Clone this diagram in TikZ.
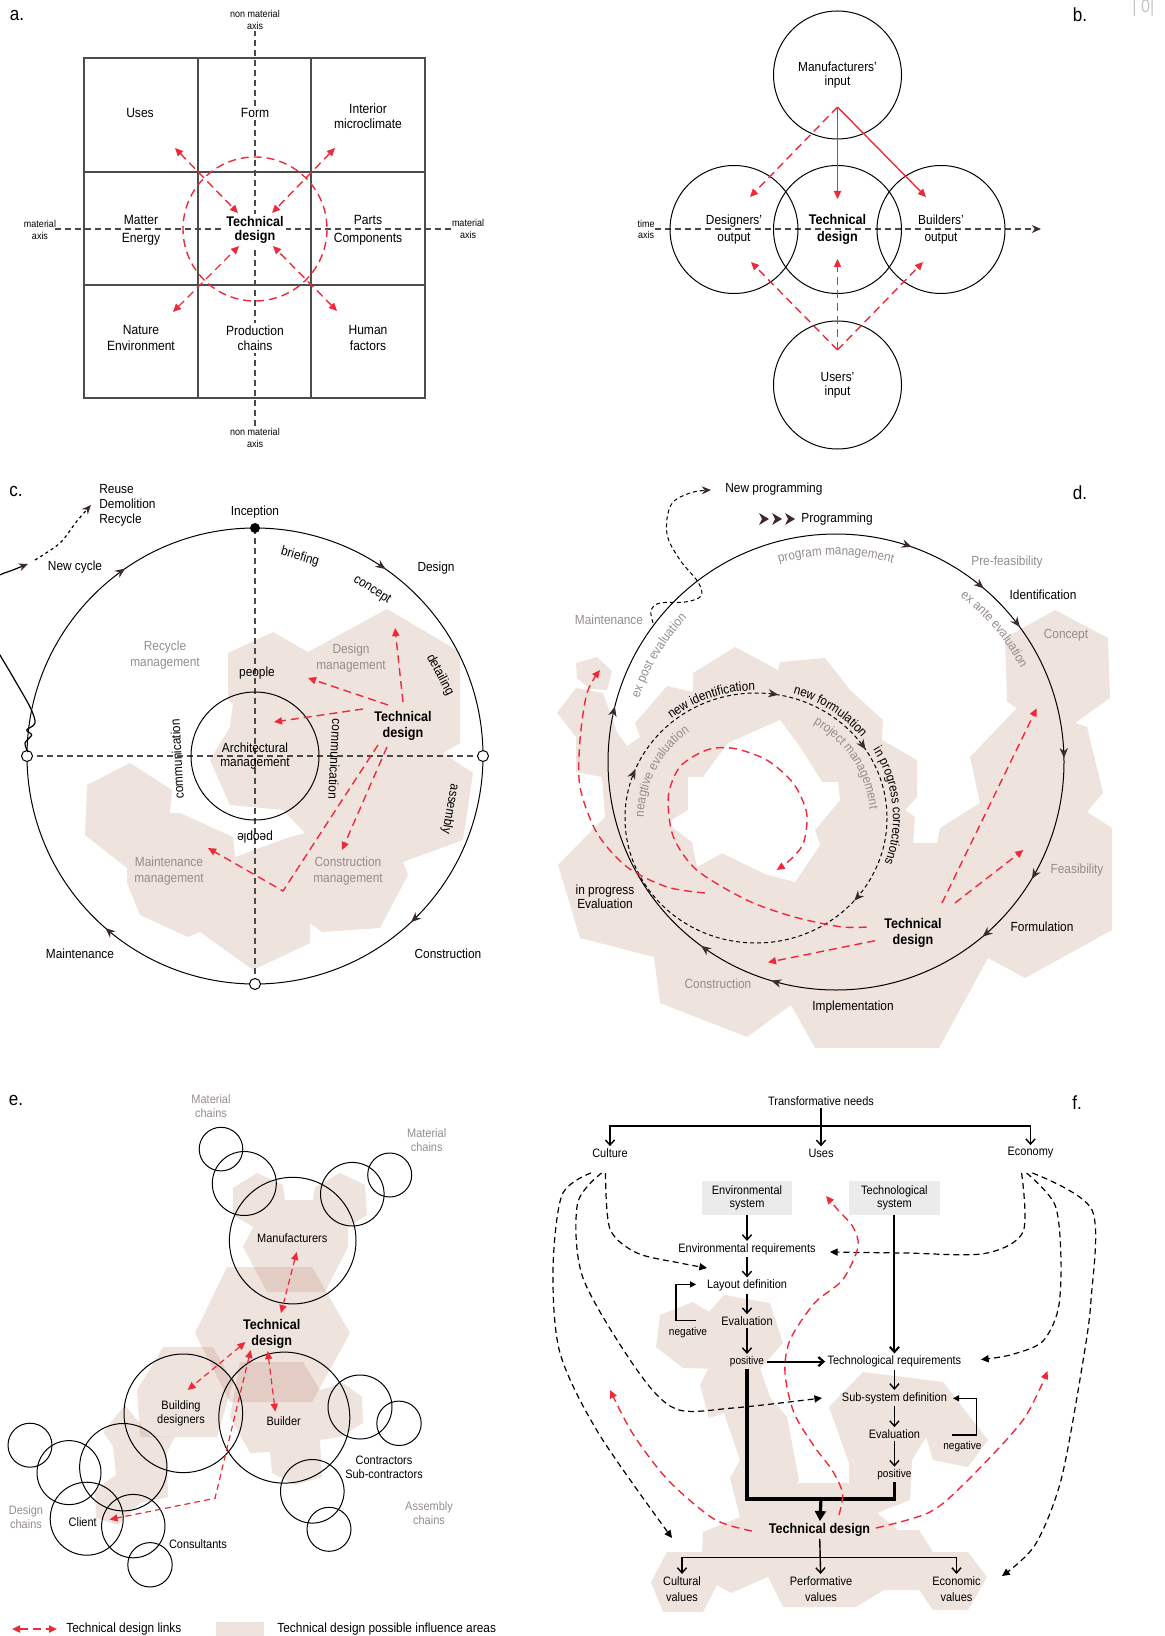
\documentclass[tikz,border=0pt]{standalone}
\usepackage{fontspec}
\setmainfont{Liberation Sans}[FakeStretch=0.9]
\usetikzlibrary{arrows.meta,calc,decorations.markings,decorations.text}
\definecolor{tdred}{HTML}{EE2A3A}
\definecolor{darkarr}{HTML}{3C2A30}
\definecolor{txtgray}{HTML}{958C8C}
\definecolor{shade}{HTML}{EFE3DE}
\definecolor{shadeop}{RGB}{175,115,90}
\definecolor{boxgray}{HTML}{EBEBEB}
\definecolor{axisgray}{HTML}{4A4A4A}
\definecolor{pagegray}{HTML}{C4C4C4}
\tikzset{
  lbl/.style={font=\fontsize{6.7}{7.6}\selectfont, align=center, inner sep=1pt},
  lblsm/.style={font=\fontsize{6.6}{7.2}\selectfont, align=center, inner sep=1pt},
  lble/.style={font=\fontsize{6.1}{7}\selectfont, align=center, inner sep=1pt},
  lblxs/.style={font=\fontsize{5.6}{6.4}\selectfont, align=center, inner sep=1pt},
  axlbl/.style={font=\fontsize{5}{5.6}\selectfont, align=center, inner sep=1pt},
  tdbold/.style={font=\bfseries\fontsize{7}{8}\selectfont, align=center, inner sep=1pt},
  mute/.style={text=txtgray},
  panel/.style={font=\fontsize{9.5}{10}\selectfont, inner sep=0pt},
  cellline/.style={draw=black!70, line width=0.65pt},
  axisdash/.style={draw=axisgray, line width=0.6pt, dash pattern=on 3pt off 2pt},
  ringline/.style={draw=black, line width=0.5pt},
  bring/.style={circle, draw, line width=0.5pt, minimum size=64pt, inner sep=0pt, lblsm},
  ering/.style={circle, draw, line width=0.5pt, inner sep=0pt},
  redln/.style={draw=tdred, line width=0.7pt, dash pattern=on 4pt off 2.5pt},
  redthin/.style={draw=tdred, line width=0.6pt, dash pattern=on 3pt off 2pt},
  redarr/.style={redln, -{Triangle[length=4pt,width=3.6pt]}},
  redboth/.style={redln, {Triangle[length=4pt,width=3.6pt]}-{Triangle[length=4pt,width=3.6pt]}},
  redfull/.style={draw=tdred, line width=0.7pt, -{Triangle[length=4pt,width=3.6pt]}},
  darktip/.style={-{Stealth[length=4.6pt,width=4pt,inset=1.5pt,color=darkarr]}},
  arrat/.style={postaction={decorate,decoration={markings,mark=at position #1 with {\arrow{Stealth[length=5pt,width=4.2pt,inset=1.6pt,color=darkarr]}}}}},
  loopdash/.style={draw=black, line width=0.5pt, dash pattern=on 2pt off 1.5pt},
  flowarr/.style={draw=black, line width=0.7pt, -{Straight Barb[length=2.6pt,width=4.6pt]}},
  flowfat/.style={draw=black, line width=1.6pt},
  fbk/.style={draw=black, line width=0.6pt, -{Triangle[length=3pt,width=3pt]}},
  needdash/.style={draw=black, line width=0.6pt, dash pattern=on 3pt off 2pt, -{Triangle[length=3.8pt,width=3.6pt]}},
  sysbox/.style={fill=boxgray, minimum width=45.4pt, minimum height=17pt, inner sep=0pt, align=center, font=\fontsize{6.1}{6.8}\selectfont},
  zone/.style={fill=shade, draw=none},
  zoneo/.style={fill=shadeop, fill opacity=0.2, draw=none},
  arctxt/.style={decorate, decoration={text along path, text align=center, text={|\fontsize{6.5}{7}\selectfont|#1}}},
  arctxtg/.style={decorate, decoration={text along path, text align=center, text color=txtgray, text={|\fontsize{6.5}{7}\selectfont|#1}}},
}
\begin{document}
\begin{tikzpicture}[x=0.5pt,y=-0.5pt]
\useasboundingbox (0,0) rectangle (1165,1636);

% influence areas
\fill[zone] plot coordinates {(228,653) (273,632) (308,652) (387,609) (460,652) (460,743) (443,753) (473,773) (463,840) (403,862) (408,875) (380,928) (322,932) (310,923) (310,943) (253,970) (200,932) (188,937) (140,915) (127,883) (127,868) (85,835) (87,785) (130,763) (172,790) (170,813) (180,813) (233,837) (235,857) (287,838) (305,833) (283,810) (230,805) (210,760) (230,727) (233,703) (228,700)} -- cycle;
\fill[zone] plot coordinates {(576,663) (597,657) (612,671) (607,690) (590,689) (577,678)} -- cycle;
\fill[zone] plot coordinates {(557,713) (576,688) (603,693) (617,732) (627,746) (640,737) (635,723) (667,686) (693,692) (693,673) (735,647) (778,670) (780,662) (825,658) (840,677) (850,690) (883,720) (882,740) (917,760) (917,797) (905,810) (915,817) (913,843) (937,843) (940,828) (980,803) (970,757) (1017,708) (1007,702) (1005,638) (1055,610) (1108,638) (1110,698) (1075,723) (1087,727) (1103,793) (1087,812) (1112,828) (1112,930) (1025,978) (988,958) (939,1048) (815,1048) (791,1005) (747,1037) (660,1003) (654,957) (580,938) (558,865) (605,817) (602,777) (576,772) (576,737)} -- cycle;
\fill[white] plot coordinates {(688,777) (703,777) (728,743) (780,720) (800,747) (822,782) (838,782) (840,800) (815,830) (820,845) (795,882) (765,874) (722,853) (697,867) (692,842) (667,823) (688,810)} -- cycle;
\fill[zoneo] plot coordinates {(233,1188) (257,1173) (283,1185) (285,1200) (313,1200) (315,1187) (340,1173) (365,1185) (367,1215) (348,1227) (348,1247) (325,1292) (267,1292) (243,1247) (253,1227) (233,1215)} -- cycle;
\fill[zoneo] plot coordinates {(195,1333) (227,1267) (312,1267) (350,1333) (312,1402) (230,1402)} -- cycle;
\fill[zoneo] plot coordinates {(240,1362) (303,1362) (320,1390) (343,1383) (362,1397) (363,1423) (340,1437) (320,1440) (322,1477) (295,1485) (272,1473) (270,1452) (250,1453) (230,1417)} -- cycle;
\fill[zoneo] plot coordinates {(137,1390) (163,1347) (213,1347) (233,1383) (217,1437) (140,1437)} -- cycle;
\fill[zoneo] plot coordinates {(103,1432) (125,1405) (150,1436) (175,1437) (167,1452) (168,1497) (140,1503) (118,1525) (96,1518) (95,1490) (116,1475) (113,1446)} -- cycle;
\fill[zone] plot coordinates {(656,1347) (660,1315) (693,1302) (709,1312) (724,1295) (770,1303) (783,1343) (759,1370) (683,1368)} -- cycle;
\fill[zone] plot coordinates {(700,1385) (710,1365) (759,1365) (770,1397) (787,1417) (799,1480) (790,1500) (757,1528) (740,1517) (730,1478) (740,1460) (724,1413) (709,1418)} -- cycle;
\fill[zone] plot coordinates {(829,1407) (863,1372) (943,1382) (988,1440) (968,1467) (933,1460) (926,1437) (912,1460) (910,1500) (877,1513) (849,1483) (849,1463)} -- cycle;
\fill[zone] plot coordinates {(703,1532) (740,1517) (757,1528) (770,1510) (799,1483) (849,1483) (877,1513) (898,1530) (919,1530) (933,1552) (968,1552) (987,1577) (968,1610) (933,1610) (919,1590) (884,1590) (856,1607) (783,1607) (768,1577) (731,1593) (717,1585) (703,1612) (663,1612) (651,1582) (667,1552) (702,1552)} -- cycle;

% panel letters
\node[panel] (la) at (17,15) {a.};
\node[panel] (lb) at (1080,15) {b.};
\node[panel] (lc) at (16,491) {c.};
\node[panel] (ld) at (1080,493) {d.};
\node[panel] (le) at (16,1100) {e.};
\node[panel] (lf) at (1077,1103) {f.};
\node[font=\fontsize{9}{9}\selectfont, text=pagegray, anchor=west, inner sep=0pt] (pg) at (1132,8) {| 0|};

% a. grid of fields
\draw[cellline] (84,58) rectangle (425,398);
\foreach \gx in {198,311} \draw[cellline] (\gx,58) -- (\gx,398);
\foreach \gy in {172,285} \draw[cellline] (84,\gy) -- (425,\gy);
\draw[axisdash] (255,30) -- (255,428);
\draw[axisdash] (55,229) -- (453,229);
\draw[redln] (255,229) circle[radius=72];
\node[axlbl, fill=white] (aNMt) at (255,20) {non material\\axis};
\node[axlbl, fill=white] (aNMb) at (255,438) {non material\\axis};
\node[axlbl] (aMl) at (40,230) {material\\axis};
\node[axlbl] (aMr) at (468,229) {material\\axis};
\node[lbl] (aUses) at (140,113) {Uses};
\node[lbl, fill=white] (aForm) at (255,113) {Form};
\node[lbl] (aInt) at (368,116) {Interior\\microclimate};
\node[lbl, font=\fontsize{6.7}{9}\selectfont] (aMat) at (141,230) {Matter\\Energy};
\node[tdbold, fill=white, font=\bfseries\fontsize{7}{7.3}\selectfont] (aTD) at (255,230) {Technical\\design};
\node[lbl, font=\fontsize{6.7}{9}\selectfont] (aPar) at (368,230) {Parts\\Components};
\node[lbl] (aNat) at (141,338) {Nature\\Environment};
\node[lbl, fill=white] (aPro) at (255,338) {Production\\chains};
\node[lbl] (aHum) at (368,338) {Human\\factors};
\coordinate (aNWo) at (175,148); \coordinate (aNWi) at (238,213);
\coordinate (aNEo) at (335,148); \coordinate (aNEi) at (272,213);
\coordinate (aSWo) at (173,312); \coordinate (aSWi) at (239,246);
\coordinate (aSEo) at (337,311); \coordinate (aSEi) at (273,246);
\draw[redboth] (aNWo) -- (aNWi);
\draw[redboth] (aNEo) -- (aNEi);
\draw[redboth] (aSWo) -- (aSWi);
\draw[redboth] (aSEo) -- (aSEi);

% b. actors along the time axis
\draw[axisdash, darktip] (655,229) -- (1041,229);
\node[axlbl] (bTime) at (646,229.5) {time\\axis};
\node[bring, font=\fontsize{6.6}{6.9}\selectfont] (bMan) at (837.5,75) {Manufacturers'\\input};
\node[bring, font=\fontsize{6.6}{8.6}\selectfont] (bDes) at (734,229.5) {Designers'\\output};
\node[bring, tdbold, font=\bfseries\fontsize{7}{8.8}\selectfont] (bTD) at (837.5,229.5) {Technical\\design};
\node[bring, font=\fontsize{6.6}{8.6}\selectfont] (bBui) at (941,229.5) {Builders'\\output};
\node[bring, font=\fontsize{6.6}{6.9}\selectfont] (bUse) at (837.5,385) {Users'\\input};
\coordinate (bMo) at (837.5,107); \coordinate (bMd) at (837.5,199);
\coordinate (bMr) at (926,197); \coordinate (bMl) at (750,197);
\coordinate (bUo) at (837.5,350); \coordinate (bUd) at (837.5,259);
\coordinate (bUl) at (751,262); \coordinate (bUr) at (923,262);
\draw[redfull] (bMo) -- (bMd);
\draw[redfull] (bMo) -- (bMr);
\draw[redarr] (bMo) -- (bMl);
\draw[redarr] (bUo) -- (bUd);
\draw[redarr] (bUo) -- (bUl);
\draw[redarr] (bUo) -- (bUr);

% c. building life cycle
\coordinate (cC) at (255,756);
\draw[axisdash] (255,528) -- (255,984);
\draw[axisdash] (27,756) -- (483,756);
\draw[ringline, arrat=0.13, arrat=0.364, arrat=0.6536, arrat=0.847] (cC) circle[radius=228];
\node[bring] (cArch) at (cC) {Architectural\\management};
\fill (255,528) circle[radius=5];
\draw[ringline, fill=white] (27,756) circle[radius=5.5];
\draw[ringline, fill=white] (483,756) circle[radius=5.5];
\draw[ringline, fill=white] (255,984) circle[radius=5.5];
\draw[line width=0.6pt, darktip] plot[smooth, tension=0.55] coordinates {(28,752) (25,743) (31.7,735) (26.7,730) (35,723) (30,707) (13,677) (-8,640) (-22,600) (-5,578) (13,570) (28,564)};
\draw[line width=0.6pt, dash pattern=on 1.5pt off 1.6pt, darktip] plot[smooth] coordinates {(35,560) (60,543) (77,521) (91,505)};
\node[lblsm] (cInc) at (255,512) {Inception};
\node[lblsm] (cDes) at (436,568) {Design};
\node[lblsm] (cCon) at (448,954) {Construction};
\node[lblsm] (cMai) at (80,954) {Maintenance};
\node[lblsm] (cNew) at (75,567) {New cycle};
\node[lblsm, align=left, anchor=west, font=\fontsize{6.6}{7.5}\selectfont] (cReu) at (97,505.5) {Reuse\\Demolition\\Recycle};
\node[lblsm, rotate=-16] (cBri) at (300,557) {briefing};
\node[lblsm, rotate=-33] (cCcp) at (372,590) {concept};
\node[lblsm, rotate=-62] (cDet) at (440,675) {detailing};
\node[lblsm, rotate=-100] (cAss) at (450,809) {assembly};
\node[lblsm] (cPe1) at (257,673) {people};
\node[lblsm, rotate=180] (cPe2) at (255,837) {people};
\node[lblsm, rotate=93] (cCo1) at (177,759) {communication};
\node[lblsm, rotate=-93] (cCo2) at (335,759) {communication};
\node[lblsm, mute, font=\fontsize{6.6}{7.6}\selectfont] (cRec) at (165,655) {Recycle\\management};
\node[lblsm, mute, font=\fontsize{6.6}{7.6}\selectfont] (cDm) at (351,658) {Design\\management};
\node[lblsm, mute, font=\fontsize{6.6}{7.6}\selectfont] (cMm) at (169,871) {Maintenance\\management};
\node[lblsm, mute, font=\fontsize{6.6}{7.6}\selectfont] (cCm) at (348,871) {Construction\\management};
\node[tdbold, font=\bfseries\fontsize{7}{7.9}\selectfont] (cTD) at (403,726) {Technical\\design};
\coordinate (cT1) at (403,702); \coordinate (cT1e) at (395,628);
\coordinate (cT2) at (388,705); \coordinate (cT2e) at (308,678);
\coordinate (cT3) at (363,709); \coordinate (cT3e) at (274,722);
\coordinate (cT4) at (387,747); \coordinate (cT4e) at (342,850);
\coordinate (cT5) at (378,745); \coordinate (cT5m) at (283,891); \coordinate (cT5e) at (208,848);
\draw[redarr] (cT1) -- (cT1e);
\draw[redarr] (cT2) -- (cT2e);
\draw[redarr] (cT3) -- (cT3e);
\draw[redarr] (cT4) -- (cT4e);
\draw[redarr] (cT5) -- (cT5m) -- (cT5e);

% d. programming and project cycle
\coordinate (dC) at (836,762);
\coordinate (dL) at (756,818);
\draw[ringline, arrat=0.0856, arrat=0.1389, arrat=0.2958, arrat=0.3508, arrat=0.5392, arrat=0.8039, arrat=0.8622, arrat=0.8992, arrat=0.9972] (dC) circle[radius=228];
\draw[loopdash, arrat=0.1131, arrat=0.5625, arrat=0.7778, arrat=0.9092] (dL) ellipse[x radius=131, y radius=125];
\draw[loopdash, darktip] plot[smooth, tension=0.6] coordinates {(653,623) (651,610) (660,603) (685,602) (701,596) (698,582) (680,560) (667,534) (671,505) (690,493) (711,490)};
\foreach \ax in {769,782,795} \fill[darkarr] (\ax,519) -- (\ax-10,513) -- (\ax-7,519) -- (\ax-10,525) -- cycle;
\node[lblsm, anchor=west] (dNewP) at (723,488.6) {New programming};
\node[lblsm, anchor=west] (dProg) at (799,519) {Programming};
\node[lblsm, mute] (dPre) at (1007,562) {Pre-feasibility};
\node[lblsm] (dIde) at (1043,595) {Identification};
\node[lblsm, mute] (dCon) at (1066,635) {Concept};
\node[lblsm, mute] (dMai) at (609,619.5) {Maintenance};
\node[lblsm, mute] (dFea) at (1077,870) {Feasibility};
\node[lblsm] (dFor) at (1042,927) {Formulation};
\node[lblsm] (dImp) at (853,1007) {Implementation};
\node[lblsm, mute] (dCst) at (718,983.6) {Construction};
\node[lblsm] (dIpe) at (605,897) {in progress\\Evaluation};
\node[tdbold] (dTD) at (913,933) {Technical\\design};
\path[arctxtg={program management}] (dC) ++(-112:207) arc[start angle=-112, end angle=-68, radius=207];
\path[arctxtg={ex ante evaluation}] (dC) ++(-60:207) arc[start angle=-60, end angle=-20, radius=207];
\path[arctxtg={ex post evaluation}] (dC) ++(-168:207) arc[start angle=-168, end angle=-130, radius=207];
\path[arctxt={new identification}] (dL) ++(-150:134 and 127.5) arc[start angle=-150, end angle=-70, x radius=134, y radius=127.5];
\path[arctxt={new formulation}] (dL) ++(-92:135 and 129) arc[start angle=-92, end angle=-20, x radius=135, y radius=129];
\path[arctxt={in progress corrections}] (dL) ++(-42:137 and 131) arc[start angle=-42, end angle=31, x radius=137, y radius=131];
\path[arctxtg={project management}] (dL) ++(-64:114 and 109) arc[start angle=-64, end angle=0, x radius=114, y radius=109];
\path[arctxtg={neagtive evaluation}] (dL) ++(-188:112 and 107) arc[start angle=-188, end angle=-118, x radius=112, y radius=107];
\coordinate (dR1) at (705,893);
\coordinate (dR2) at (866.7,927);
\coordinate (dR3a) at (942,903); \coordinate (dR3b) at (1036.7,708.3);
\coordinate (dR4a) at (955,903); \coordinate (dR4b) at (1023.3,850);
\coordinate (dR5a) at (875,940.7); \coordinate (dR5b) at (768,962.3);
\draw[redarr] plot[smooth] coordinates {(dR1) (667,887) (627,867) (597,833) (580,787) (580,740) (587,693) (600,670)};
\draw[redarr] plot[smooth] coordinates {(dR2) (840,926.7) (793.3,916.7) (746.7,900) (696.7,870) (673.3,836.7) (668.3,796.7) (680,766.7) (706.7,750) (733.3,748.3) (766.7,760) (793.3,783.3) (806.7,813.3) (803.3,843.3) (790,860) (776.7,870)};
\draw[redarr] (dR3a) -- (dR3b);
\draw[redarr] (dR4a) -- (dR4b);
\draw[redarr] (dR5a) -- (dR5b);

% e. actors and chains
\foreach \cx/\cy/\cr in {221/1149.1/21.8, 244.3/1183.5/32, 352.3/1194.2/31.8, 389.7/1175/22, 360/1407/32, 399/1423.3/22.2, 312.3/1491.3/31.8, 329/1529.3/22, 123.3/1467.2/43.7, 69/1472.6/32, 30/1445.2/22, 133.3/1526.1/31.7, 150/1564.8/22.2}
  \draw[ringline] (\cx,\cy) circle[radius=\cr];
\node[ering, minimum size=63.3pt] (eManC) at (292.7,1240.6) {};
\node[ering, minimum size=59.3pt] (eBDC) at (183.3,1413.3) {};
\node[ering, minimum size=65.5pt] (eBuC) at (284.3,1417.6) {};
\node[ering, minimum size=36.5pt] (eClC) at (86.7,1518.7) {};
\node[lble, mute] (eMc1) at (211,1106.6) {Material\\chains};
\node[lble, mute] (eMc2) at (426.7,1140.3) {Material\\chains};
\node[lble] (eMan) at (292.3,1238.2) {Manufacturers};
\node[tdbold] (eTD) at (271.7,1333.5) {Technical\\design};
\node[lble] (eBD) at (181,1413.3) {Building\\designers};
\node[lble] (eBu) at (283.7,1421) {Builder};
\node[lble] (eCon) at (384,1467.2) {Contractors\\Sub-contractors};
\node[lble, mute] (eAs) at (429,1513.3) {Assembly\\chains};
\node[lble, mute] (eDc) at (26,1516.9) {Design\\chains};
\node[lble] (eCl) at (82.7,1522.2) {Client};
\node[lble] (eCs) at (198,1543.8) {Consultants};
\coordinate (eR1a) at (296.7,1252); \coordinate (eR1b) at (281,1313);
\coordinate (eR2a) at (245.5,1342); \coordinate (eR2b) at (187.7,1390);
\coordinate (eR3a) at (267.7,1351); \coordinate (eR3b) at (275.3,1411.7);
\coordinate (eR4a) at (250.7,1350); \coordinate (eR4m) at (215,1498.3); \coordinate (eR4b) at (109.5,1519.5);
\draw[redthin, {Triangle[length=4pt,width=3.6pt]}-{Triangle[length=4pt,width=3.6pt]}] (eR1a) -- (eR1b);
\draw[redthin, {Triangle[length=4pt,width=3.6pt]}-{Triangle[length=4pt,width=3.6pt]}] (eR2a) -- (eR2b);
\draw[redthin, {Triangle[length=4pt,width=3.6pt]}-{Triangle[length=4pt,width=3.6pt]}] (eR3a) -- (eR3b);
\draw[redthin, {Triangle[length=4pt,width=3.6pt]}-{Triangle[length=4pt,width=3.6pt]}] (eR4a) -- (eR4m) -- (eR4b);

% legend
\coordinate (lgA) at (12,1629); \coordinate (lgB) at (57,1629);
\draw[redboth] (lgA) -- (lgB);
\node[lblsm, anchor=west] (lgLinks) at (64,1629) {Technical design links};
\fill[zone] (216,1622) rectangle (264,1640);
\node[lblsm, anchor=west] (lgAreas) at (275,1629) {Technical design possible influence areas};

% f. design flow
\node[lble] (fTN) at (821,1101) {Transformative needs};
\node[lble] (fCul) at (610,1153) {Culture};
\node[lble] (fUse) at (821,1153) {Uses};
\node[lble] (fEco) at (1030.5,1153) {Economy};
\node[sysbox] (fEnvS) at (747,1198) {Environmental\\system};
\node[sysbox] (fTecS) at (894.4,1198) {Technological\\system};
\node[lble] (fEnvR) at (747,1249) {Environmental requirements};
\node[lble] (fLay) at (747,1285.5) {Layout definition};
\node[lble] (fEv1) at (747,1321) {Evaluation};
\node[lblxs] (fNeg1) at (688,1333) {negative};
\node[lblxs] (fPos1) at (747,1361.6) {positive};
\node[lble] (fTecR) at (894.4,1361.6) {Technological requirements};
\node[lble] (fSub) at (894.4,1398) {Sub-system definition};
\node[lble] (fEv2) at (894.4,1434) {Evaluation};
\node[lblxs] (fPos2) at (894.4,1474.3) {positive};
\node[lblxs] (fNeg2) at (962.4,1447) {negative};
\node[tdbold] (fTD) at (819.5,1530) {Technical design};
\node[lble, font=\fontsize{6.1}{8.2}\selectfont] (fCV) at (682,1589) {Cultural\\values};
\node[lble, font=\fontsize{6.1}{8.2}\selectfont] (fPV) at (821,1589) {Performative\\values};
\node[lble, font=\fontsize{6.1}{8.2}\selectfont] (fEV) at (956.5,1589) {Economic\\values};
\coordinate (fBar) at (821,1126);
\draw[flowarr] (fTN) -- (fUse);
\draw[flowarr] (fBar) -| (fCul);
\draw[flowarr] (fBar) -| (fEco);
\draw[flowarr] (fEnvS) -- (fEnvR);
\draw[flowarr] (fEnvR) -- (fLay);
\draw[flowarr] (fLay) -- (fEv1);
\draw[flowarr] (fEv1) -- (fPos1);
\draw[flowarr, line width=1.1pt] (fPos1) -- (fTecR);
\draw[flowarr, line width=1pt] (fTecS) -- (fTecR);
\draw[flowarr] (fTecR) -- (fSub);
\draw[flowarr] (fSub) -- (fEv2);
\draw[flowarr] (fEv2) -- (fPos2);
\coordinate (fN1a) at (696,1320.7); \coordinate (fN1b) at (696,1284.4);
\coordinate (fN2a) at (952,1435); \coordinate (fN2b) at (953,1398.3);
\draw[fbk] (fN1a) -- ++(-20,0) |- (fN1b);
\draw[fbk] (fN2a) -- ++(24.5,0) |- (fN2b);
\coordinate (fJr) at (894.4,1499); \coordinate (fJm) at (821,1499);
\draw[flowfat] (fPos1) |- (fJr) -- (fPos2);
\draw[flowfat, -{Triangle[length=5pt,width=5.5pt]}] (fJm) -- (fTD);
\coordinate (fBar2) at (821,1557.7);
\draw[flowarr] (fTD) -- (fPV);
\draw[flowarr] (fBar2) -| (fCV);
\draw[flowarr] (fBar2) -| (fEV);
\draw[needdash] plot[smooth] coordinates {(605.5,1173) (610,1229) (637,1253) (680,1263) (707,1268)};
\draw[needdash] plot[smooth] coordinates {(601.6,1173) (577.4,1204) (583,1278) (637,1370) (676,1409) (733,1408) (822,1398)};
\draw[needdash] plot[smooth] coordinates {(591,1173) (562,1195) (553,1270) (560,1353) (599,1434) (672,1538)};
\draw[needdash] plot[smooth] coordinates {(1021.6,1173) (1023,1232) (984,1253.6) (905,1253) (830,1252)};
\draw[needdash] plot[smooth] coordinates {(1026.6,1173) (1055,1205) (1061,1260) (1058,1310) (1042,1342) (1010,1355) (981,1359.5)};
\draw[needdash] plot[smooth] coordinates {(1032.4,1173) (1092,1210) (1091,1300) (1082,1367) (1061,1480) (1035,1545) (1002,1576)};
\draw[redarr] plot[smooth] coordinates {(752,1531) (714,1519) (668,1480) (633,1434) (610,1390)};
\draw[redarr] plot[smooth] coordinates {(876,1528) (930,1512) (968,1480) (1023,1420) (1047.5,1371)};
\draw[redarr] plot[smooth] coordinates {(839,1515) (842.5,1493) (832,1470) (814.6,1447) (794,1413) (785,1373) (790,1340) (814.6,1303) (842.5,1280) (858,1247) (853,1227) (838,1210) (826,1196)};
\end{tikzpicture}
\end{document}
